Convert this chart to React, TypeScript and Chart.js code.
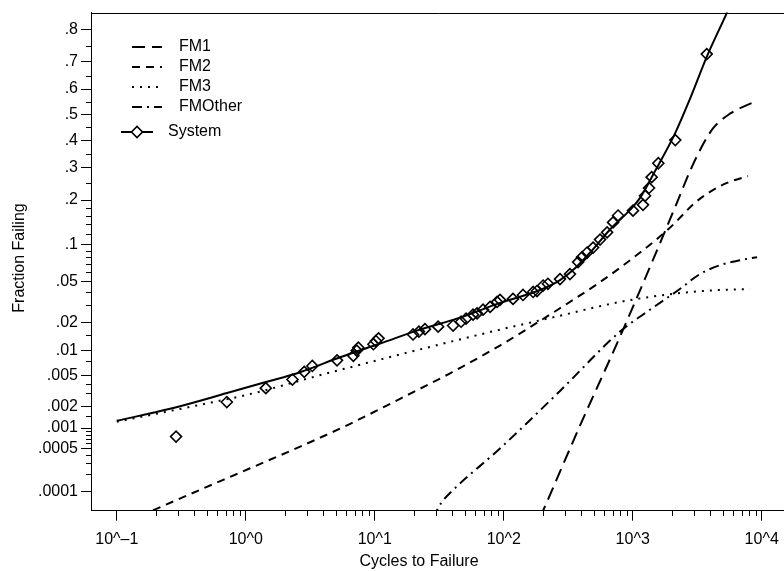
import React, { useEffect, useRef } from 'react';
import { Chart, registerables } from 'chart.js';

Chart.register(...registerables);

// ---- data (cycles, fraction failing) ----
const SYSTEM_CYCLES = [0.288, 0.713, 1.43, 2.30, 2.84, 3.28, 5.10, 6.82, 7.25, 7.46, 9.76, 10.2, 10.7, 19.8, 22.0, 24.5, 31.0, 40.5, 46.7, 51.0, 57.8, 62.1, 69.1, 78.4, 88.8, 93.6, 118, 141, 169, 181, 202, 220, 273, 326, 377, 405, 443, 493, 558, 633, 704, 770, 1005, 1202, 1245, 1337, 1403, 1579, 2138, 3750];
const SYSTEM_FRACTION = [0.00075, 0.0023, 0.0035, 0.0045, 0.0056, 0.0066, 0.0077, 0.0087, 0.0100, 0.0108, 0.0118, 0.0128, 0.0137, 0.0151, 0.0162, 0.0172, 0.0183, 0.0188, 0.0206, 0.0221, 0.0243, 0.025, 0.0272, 0.029, 0.0324, 0.0339, 0.0346, 0.0377, 0.0402, 0.041, 0.046, 0.0477, 0.0525, 0.058, 0.073, 0.080, 0.087, 0.095, 0.109, 0.123, 0.144, 0.160, 0.172, 0.187, 0.212, 0.235, 0.269, 0.316, 0.401, 0.725];

const SYSTEM_FIT_CYCLES = [0.1, 0.259, 0.716, 1.41, 2.64, 5.38, 11.0, 22.4, 45.8, 93.5, 191, 273, 357, 467, 667, 953, 1140, 1490, 2130, 2780, 3770, 5380, 6300];
const SYSTEM_FIT_FRACTION = [0.00127, 0.00186, 0.00302, 0.00415, 0.00554, 0.00836, 0.0120, 0.0170, 0.0227, 0.0317, 0.0419, 0.0514, 0.065, 0.087, 0.1287, 0.174, 0.206, 0.289, 0.427, 0.562, 0.718, 0.843, 0.886];

const FM1_CYCLES = [191, 237, 390, 797, 1360, 2200, 2780, 3320, 4190, 5680, 7160, 8870];
const FM1_FRACTION = [0.000035, 0.000107, 0.00108, 0.0143, 0.0665, 0.1925, 0.289, 0.363, 0.446, 0.504, 0.531, 0.551];

const FM2_CYCLES = [0.152, 0.327, 1.08, 2.64, 6.44, 15.7, 38.4, 93.5, 228, 558, 1140, 1950, 3040, 3970, 5380, 7820];
const FM2_FRACTION = [0.000038, 0.000081, 0.000244, 0.000531, 0.00115, 0.00254, 0.00538, 0.0114, 0.0243, 0.0494, 0.087, 0.1328, 0.1925, 0.2233, 0.2504, 0.2726];

const FM3_CYCLES = [0.1, 0.442, 1.08, 4.27, 15.7, 93.5, 273, 797, 2320, 4740, 8100];
const FM3_FRACTION = [0.00123, 0.00211, 0.00293, 0.00538, 0.00902, 0.0170, 0.0237, 0.0324, 0.0393, 0.0419, 0.0428];

const FMOTHER_CYCLES = [28.3, 32.7, 39.0, 93.5, 273, 797, 1360, 2320, 3320, 4750, 6790, 9200];
const FMOTHER_FRACTION = [0.000035, 0.000064, 0.000099, 0.000497, 0.00322, 0.0162, 0.0272, 0.0428, 0.058, 0.0689, 0.0756, 0.080];

// ---- axes ----
const X_TICK_EXPONENTS = [-1, 0, 1, 2, 3, 4];
const X_TICK_LABELS = ['10^\u20131', '10^0', '10^1', '10^2', '10^3', '10^4'];
const X_RANGE_EXPONENTS = [-1.2, 4.2];
const Y_TICK_FRACTIONS = [0.8, 0.7, 0.6, 0.5, 0.4, 0.3, 0.2, 0.1, 0.05, 0.02, 0.01, 0.005, 0.002, 0.001, 0.0005, 0.0001];
const Y_MINOR_FRACTIONS = [0.75, 0.65, 0.55, 0.45, 0.35, 0.25, 0.18, 0.16, 0.14, 0.12, 0.09, 0.08, 0.07, 0.06, 0.04, 0.03, 0.015, 0.0075, 0.004, 0.003, 0.0015, 0.0009, 0.0008, 0.0007, 0.0006, 0.0004, 0.0003, 0.0002];
const Y_RANGE_FRACTIONS = [0.000047, 0.843];

const FONT = '"Liberation Sans", Arial, Helvetica, sans-serif';

function probit(p: number): number {
  const a = [-3.969683028665376e1, 2.209460984245205e2, -2.759285104469687e2, 1.38357751867269e2, -3.066479806614716e1, 2.506628277459239];
  const b = [-5.447609879822406e1, 1.615858368580409e2, -1.556989798598866e2, 6.680131188771972e1, -1.328068155288572e1];
  const c = [-7.784894002430293e-3, -3.223964580411365e-1, -2.400758277161838, -2.549732539343734, 4.374664141464968, 2.938163982698783];
  const d = [7.784695709041462e-3, 3.224671290700398e-1, 2.445134137142996, 3.754408661907416];
  const plow = 0.02425;
  if (p < plow) {
    const q = Math.sqrt(-2 * Math.log(p));
    return (((((c[0] * q + c[1]) * q + c[2]) * q + c[3]) * q + c[4]) * q + c[5]) / ((((d[0] * q + d[1]) * q + d[2]) * q + d[3]) * q + 1);
  }
  if (p <= 1 - plow) {
    const q = p - 0.5;
    const r = q * q;
    return ((((((a[0] * r + a[1]) * r + a[2]) * r + a[3]) * r + a[4]) * r + a[5]) * q) / (((((b[0] * r + b[1]) * r + b[2]) * r + b[3]) * r + b[4]) * r + 1);
  }
  const q = Math.sqrt(-2 * Math.log(1 - p));
  return -(((((c[0] * q + c[1]) * q + c[2]) * q + c[3]) * q + c[4]) * q + c[5]) / ((((d[0] * q + d[1]) * q + d[2]) * q + d[3]) * q + 1);
}

const toPoints = (cycles: number[], frac: number[]) =>
  cycles.map((c, i) => ({ x: Math.log10(c), y: probit(frac[i]) }));

const fracLabel = (f: number) => String(f).replace(/^0/, '');

const decorPlugin = {
  id: 'decor',
  afterDraw(chart: any) {
    const { ctx, chartArea, scales } = chart;
    const xs = scales.x;
    const ys = scales.y;
    ctx.save();
    ctx.strokeStyle = '#000';
    ctx.fillStyle = '#000';
    ctx.lineWidth = 1;
    ctx.setLineDash([]);
    // frame top and right
    const top = Math.round(chartArea.top) + 0.5;
    const right = Math.round(chartArea.right) - 0.5;
    ctx.beginPath();
    ctx.moveTo(chartArea.left, top);
    ctx.lineTo(right, top);
    ctx.lineTo(right, chartArea.bottom);
    ctx.stroke();
    // minor ticks x
    const bottom = Math.round(chartArea.bottom);
    ctx.beginPath();
    for (let e = X_TICK_EXPONENTS[0]; e < X_TICK_EXPONENTS[X_TICK_EXPONENTS.length - 1]; e++) {
      for (let m = 2; m <= 9; m++) {
        const px = Math.round(xs.getPixelForValue(e + Math.log10(m))) + 0.5;
        ctx.moveTo(px, bottom);
        ctx.lineTo(px, bottom + 5);
      }
    }
    // minor ticks y
    const left = Math.round(chartArea.left);
    Y_MINOR_FRACTIONS.forEach((f) => {
      const py = Math.round(ys.getPixelForValue(probit(f))) + 0.5;
      ctx.moveTo(left, py);
      ctx.lineTo(left - 5, py);
    });
    ctx.stroke();

    // legend (first five datasets)
    ctx.font = `16px ${FONT}`;
    ctx.textBaseline = 'middle';
    ctx.textAlign = 'left';
    const rows = [47, 67, 87, 107, 132];
    chart.data.datasets.slice(0, 5).forEach((ds: any, i: number) => {
      const y = rows[i];
      ctx.save();
      ctx.lineWidth = ds.borderWidth;
      ctx.strokeStyle = '#000';
      ctx.setLineDash(ds.borderDash || []);
      ctx.beginPath();
      if (ds.showMarker) {
        ctx.moveTo(121, y);
        ctx.lineTo(153, y);
        ctx.stroke();
        ctx.setLineDash([]);
        ctx.lineWidth = 1.6;
        ctx.fillStyle = '#fff';
        ctx.beginPath();
        ctx.moveTo(137 - 5.5, y);
        ctx.lineTo(137, y - 5.5);
        ctx.lineTo(137 + 5.5, y);
        ctx.lineTo(137, y + 5.5);
        ctx.closePath();
        ctx.fill();
        ctx.stroke();
        ctx.fillStyle = '#000';
        ctx.fillText(ds.label, 168, y);
      } else {
        ctx.moveTo(132, y);
        ctx.lineTo(162, y);
        ctx.stroke();
        ctx.fillStyle = '#000';
        ctx.fillText(ds.label, 179, y);
      }
      ctx.restore();
    });

    // axis titles
    ctx.font = `16px ${FONT}`;
    ctx.textAlign = 'center';
    ctx.textBaseline = 'alphabetic';
    ctx.fillText('Cycles to Failure', 419, 566);
    ctx.save();
    ctx.translate(24, 258);
    ctx.rotate(-Math.PI / 2);
    ctx.fillText('Fraction Failing', 0, 0);
    ctx.restore();
    ctx.restore();
  },
};

export default function App() {
  const ref = useRef<HTMLCanvasElement | null>(null);
  useEffect(() => {
    if (!ref.current) return;
    const systemFit = toPoints(SYSTEM_FIT_CYCLES, SYSTEM_FIT_FRACTION);
    const systemObs = toPoints(SYSTEM_CYCLES, SYSTEM_FRACTION);
    const chart = new Chart(ref.current, {
      type: 'line',
      data: {
        datasets: [
          { label: 'FM1', data: toPoints(FM1_CYCLES, FM1_FRACTION), borderColor: '#000', borderWidth: 2, borderDash: [13, 7], pointRadius: 0, fill: false, cubicInterpolationMode: 'monotone' } as any,
          { label: 'FM2', data: toPoints(FM2_CYCLES, FM2_FRACTION), borderColor: '#000', borderWidth: 2, borderDash: [8, 6], pointRadius: 0, fill: false, cubicInterpolationMode: 'monotone' } as any,
          { label: 'FM3', data: toPoints(FM3_CYCLES, FM3_FRACTION), borderColor: '#000', borderWidth: 2, borderDash: [2, 6], pointRadius: 0, fill: false, cubicInterpolationMode: 'monotone' } as any,
          { label: 'FMOther', data: toPoints(FMOTHER_CYCLES, FMOTHER_FRACTION), borderColor: '#000', borderWidth: 2, borderDash: [10, 5, 2, 5], pointRadius: 0, fill: false, cubicInterpolationMode: 'monotone' } as any,
          { label: 'System', showMarker: true, data: systemFit, borderColor: '#000', borderWidth: 2, pointRadius: 0, fill: false, cubicInterpolationMode: 'monotone' } as any,
          { label: 'System points', data: systemObs, showLine: false, borderColor: '#000', backgroundColor: 'rgba(0,0,0,0)', borderWidth: 1.6, pointStyle: 'rectRot', pointRadius: 5.5, pointBorderWidth: 1.6 } as any,
        ],
      },
      options: {
        responsive: false,
        animation: false,
        devicePixelRatio: 1,
        layout: { padding: { left: 0, top: 8, right: 12.5, bottom: 0 } },
        plugins: { legend: { display: false }, tooltip: { enabled: false }, title: { display: false } },
        scales: {
          x: {
            type: 'linear',
            min: X_RANGE_EXPONENTS[0],
            max: X_RANGE_EXPONENTS[1],
            afterBuildTicks: (s: any) => { s.ticks = X_TICK_EXPONENTS.map((v) => ({ value: v })); },
            afterFit: (s: any) => { s.height = 60.3; },
            ticks: {
              autoSkip: false,
              maxRotation: 0,
              padding: 9,
              color: '#000',
              font: { family: FONT, size: 16 },
              callback: (_v: any, i: number) => X_TICK_LABELS[i],
            },
            grid: { drawOnChartArea: false, drawTicks: true, tickLength: 10, color: '#000', lineWidth: 1 },
            border: { display: true, color: '#000', width: 1 },
          },
          y: {
            type: 'linear',
            min: probit(Y_RANGE_FRACTIONS[0]),
            max: probit(Y_RANGE_FRACTIONS[1]),
            afterBuildTicks: (s: any) => { s.ticks = Y_TICK_FRACTIONS.map((f) => ({ value: probit(f) })); },
            afterFit: (s: any) => { s.width = 91; },
            ticks: {
              autoSkip: false,
              padding: 3,
              color: '#000',
              font: { family: FONT, size: 16 },
              callback: (_v: any, i: number) => fracLabel(Y_TICK_FRACTIONS[i]),
            },
            grid: { drawOnChartArea: false, drawTicks: true, tickLength: 10, color: '#000', lineWidth: 1 },
            border: { display: true, color: '#000', width: 1 },
          },
        },
      } as any,
      plugins: [decorPlugin as any],
    });
    return () => chart.destroy();
  }, []);

  return (
    <div style={{ position: 'absolute', left: 0, top: 0, width: 784, height: 571, overflow: 'hidden', background: '#fff' }}>
      <canvas ref={ref} width={800} height={571} style={{ display: 'block' }} />
    </div>
  );
}
